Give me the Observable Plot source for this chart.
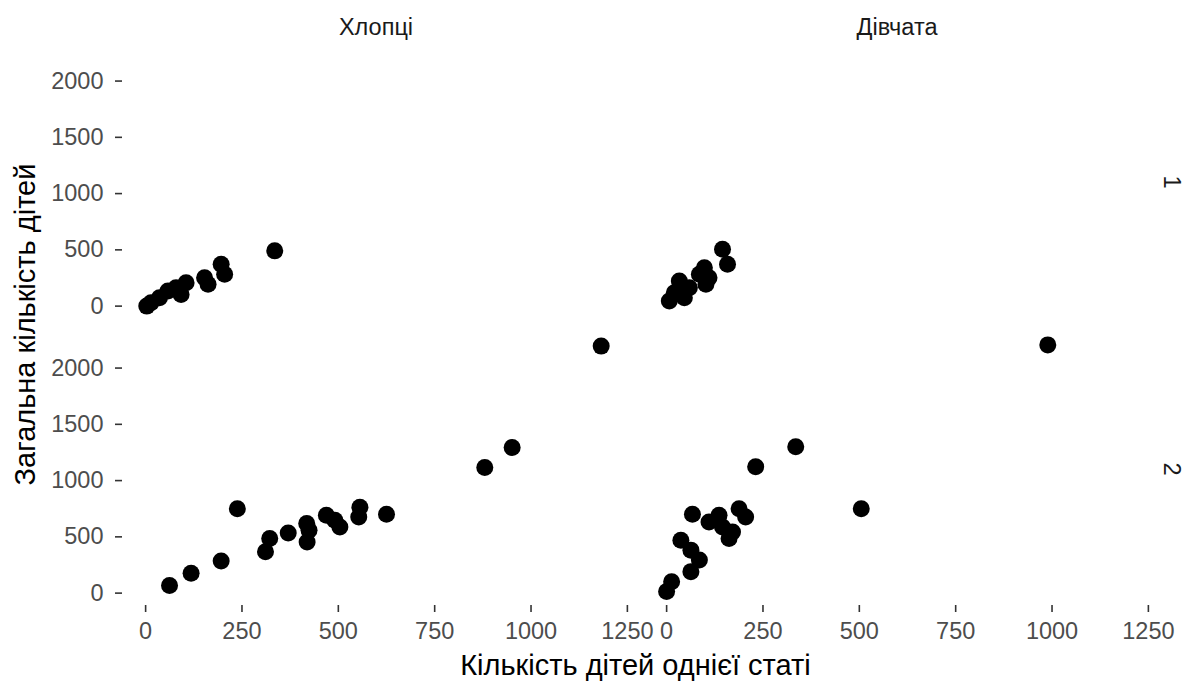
<!DOCTYPE html>
<html>
<head>
<meta charset="utf-8">
<script src="https://cdn.jsdelivr.net/npm/d3@7"></script>
<script src="https://cdn.jsdelivr.net/npm/@observablehq/plot@0.6"></script>
<style>
  body { margin: 0; background: #fff; }
  #chart svg { display: block; }
  g[aria-label="fx-axis tick label"] text, g[aria-label="fy-axis tick label"] text,
  g[aria-label="fx-axis"] text, g[aria-label="fy-axis"] text { fill: #1a1a1a; }
  g[aria-label="x-axis tick"] path, g[aria-label="y-axis tick"] path,
  g[aria-label="x-axis"] line, g[aria-label="y-axis"] line { stroke: #333333; stroke-width: 1.6px; }
</style>
</head>
<body>
<div id="chart"></div>
<script>
// Facet categories and tick labels
const sexes = ["Хлопці", "Дівчата"];
const groups = [1, 2];
const xTicks = [0, 250, 500, 750, 1000, 1250];
const yTicks = [0, 500, 1000, 1500, 2000];
const xTitle = "Кількість дітей однієї статі";
const yTitle = "Загальна кількість дітей";

// [count of one sex, total count]
const boysGroup1 = [[3, 0], [14, 30], [36, 74], [58, 134], [79, 164], [92, 104], [105, 208],
  [153, 253], [162, 194], [196, 372], [205, 283], [335, 491]];
const girlsGroup1 = [[7, 45], [20, 119], [33, 223], [46, 74], [59, 164], [85, 283], [98, 342],
  [102, 194], [110, 253], [145, 506], [158, 372]];
const boysGroup2 = [[62, 67], [118, 177], [196, 285], [238, 750], [311, 367], [322, 485], [370, 535],
  [419, 455], [418, 618], [424, 559], [469, 692], [491, 647], [504, 588], [556, 764], [553, 676],
  [625, 700], [880, 1117], [951, 1294], [1182, 2195]];
const girlsGroup2 = [[0, 14], [13, 102], [37, 470], [63, 382], [85, 294], [63, 191], [67, 700],
  [110, 632], [136, 691], [145, 588], [162, 485], [171, 544], [188, 750], [205, 676], [231, 1123],
  [335, 1300], [505, 750], [989, 2206]];

const rows = [];
[[boysGroup1, sexes[0], groups[0]], [girlsGroup1, sexes[1], groups[0]],
 [boysGroup2, sexes[0], groups[1]], [girlsGroup2, sexes[1], groups[1]]]
  .forEach(([pts, sex, grp]) => pts.forEach(([x, y]) => rows.push({sex, grp, x, y})));

const chart = Plot.plot({
  width: 1188,
  height: 683,
  marginLeft: 121,
  marginRight: 38,
  marginTop: 44,
  marginBottom: 78,
  style: {fontFamily: "'Liberation Sans', Arial, sans-serif", fontSize: "23.5px", background: "#fff", color: "#4d4d4d"},
  facet: {data: rows, x: "sex", y: "grp"},
  fx: {domain: sexes, paddingInner: 0.0272, paddingOuter: 0, axis: "top", label: null, tickSize: 0, tickPadding: 11},
  fy: {domain: groups, paddingInner: 0.0494, paddingOuter: 0, axis: "right", label: null, tickSize: 0, tickPadding: 30, tickRotate: 90},
  x: {domain: [-60, 1255.5], ticks: xTicks, tickFormat: d => String(d), tickSize: 7, tickPadding: 10, label: null},
  y: {domain: [-110, 2316], ticks: yTicks, tickFormat: d => String(d), tickSize: 7, tickPadding: 12, label: null},
  marks: [
    Plot.dot(rows, {x: "x", y: "y", r: 8.5, fill: "black", stroke: "none"})
  ]
});

const svg = d3.select(chart);
svg.append("text")
  .attr("x", 635.5).attr("y", 675)
  .attr("text-anchor", "middle")
  .style("font-size", "29px").style("fill", "#000")
  .text(xTitle);
svg.append("text")
  .attr("transform", "translate(35,324.5) rotate(-90)")
  .attr("text-anchor", "middle")
  .style("font-size", "29px").style("fill", "#000")
  .text(yTitle);

document.getElementById("chart").appendChild(chart);
</script>
</body>
</html>
